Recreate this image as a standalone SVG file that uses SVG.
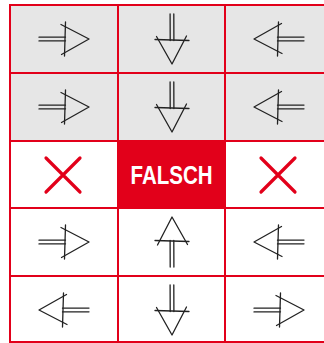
<svg xmlns="http://www.w3.org/2000/svg" xmlns:xlink="http://www.w3.org/1999/xlink" width="324" height="343" viewBox="0 0 324 343">
<style>
.grid{stroke:#e2001a;stroke-width:2;fill:none;stroke-linecap:square}
.ar{stroke:#222;stroke-width:1.3;fill:none;stroke-linecap:round;stroke-linejoin:round}
.x{stroke:#e2001a;stroke-width:3.2;stroke-linecap:round;fill:none}
.lbl{font-family:"Liberation Sans",Arial,sans-serif;font-weight:bold;font-size:25px;fill:#fff}
</style>
<defs>
<g id="arr" class="ar">
<path d="M-25,-1.8 L1.5,-1.9 M-25,1.9 L1.5,1.8"/>
<path d="M1.5,-17 L0.5,17"/>
<path d="M-3,-14.5 L25,0 L-2.5,15.5"/>
</g>
<g id="cross" class="x">
<path d="M-17,-17 L17,17 M17,-17 L-17,17"/>
</g>
</defs>
<rect x="0" y="0" width="324" height="343" fill="#fff"/>
<rect x="10" y="5" width="314" height="136" fill="#e6e6e6"/>
<g id="falsch">
<rect x="118" y="141" width="107" height="67" fill="#e2001a"/>
<text class="lbl" x="171.5" y="184" text-anchor="middle" textLength="82" lengthAdjust="spacingAndGlyphs">FALSCH</text>
</g>
<g id="grid">
<path class="grid" d="M10,5 L324,5 M10,73 L324,73 M10,141 L324,141 M10,208 L324,208 M10,276 L324,276 M10,342 L324,342"/>
<path class="grid" d="M10,5 L10,342 M118,5 L118,342 M225,5 L225,342"/>
</g>
<g id="r1c1"><use xlink:href="#arr" transform="translate(64,39)"/></g>
<g id="r1c2"><use xlink:href="#arr" transform="translate(172,39) rotate(90)"/></g>
<g id="r1c3"><use xlink:href="#arr" transform="translate(279,39) rotate(180)"/></g>
<g id="r2c1"><use xlink:href="#arr" transform="translate(64,107)"/></g>
<g id="r2c2"><use xlink:href="#arr" transform="translate(172,107) rotate(90)"/></g>
<g id="r2c3"><use xlink:href="#arr" transform="translate(279,107) rotate(180)"/></g>
<g id="r3c1"><use xlink:href="#cross" transform="translate(63,175)"/></g>
<g id="r3c3"><use xlink:href="#cross" transform="translate(278,175)"/></g>
<g id="r4c1"><use xlink:href="#arr" transform="translate(64,242)"/></g>
<g id="r4c2"><use xlink:href="#arr" transform="translate(172,242) rotate(-90)"/></g>
<g id="r4c3"><use xlink:href="#arr" transform="translate(279,242) rotate(180)"/></g>
<g id="r5c1"><use xlink:href="#arr" transform="translate(64,310) rotate(180)"/></g>
<g id="r5c2"><use xlink:href="#arr" transform="translate(172,310) rotate(90)"/></g>
<g id="r5c3"><use xlink:href="#arr" transform="translate(279,310)"/></g>
<g id="connectors"/>
</svg>
